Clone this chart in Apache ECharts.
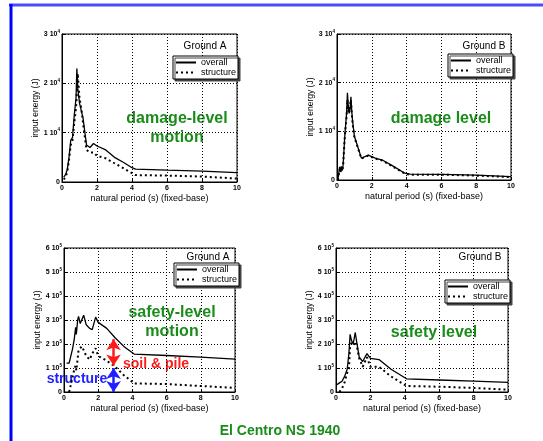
<!DOCTYPE html>
<html><head><meta charset="utf-8">
<script src="https://cdn.jsdelivr.net/npm/echarts@6/dist/echarts.min.js"></script>
<style>html,body{margin:0;padding:0;background:#fff}#c{width:543px;height:441px}</style>
</head><body><div id="c"></div>
<script>
// ---- data (input energy in J vs natural period in s) ----
const periodDamageA = [0.1,0.2,0.3,0.4,0.5,0.6,0.7,0.8,0.85,0.9,1.0,1.1,1.2,1.4,1.6,1.8,2.0,2.5,3.0,3.5,4.0,4.2,6,8,10];
const overallDamageA = [1000,1500,2500,5000,8500,9000,13500,17000,23000,19000,16000,16000,13000,7500,7000,7800,7300,6500,5000,4000,2900,2600,2400,2200,1900];
const structDamageA  = [500,1000,2000,4500,7500,8500,12000,15000,18000,22000,17000,15000,12000,6500,6000,6000,5300,4800,3800,2800,1800,1400,1300,1100,700];

const periodDamageB = [0.05,0.15,0.2,0.25,0.3,0.35,0.45,0.55,0.6,0.65,0.7,0.75,0.8,0.85,0.9,1.0,1.1,1.4,1.5,1.8,2.2,2.6,3.2,3.9,4.2,6,8,10];
const overallDamageB = [0,2700,1800,2800,2000,3000,9200,13700,17900,15000,13700,14500,17100,14000,12000,9000,8600,4500,4200,5100,4500,4100,2900,1400,1200,1150,1000,700];
const structDamageB  = [0,2200,1500,2500,1800,2800,9000,13000,16500,14000,14500,15500,16500,13500,11500,8800,8400,4400,4100,5000,4400,4000,2800,1300,1100,1100,900,600];

const periodSafetyA = [0.15,0.3,0.4,0.5,0.6,0.68,0.72,0.8,0.85,0.95,1.05,1.15,1.3,1.5,1.65,1.85,2.0,2.5,3.0,3.5,4.1,6,8,10];
const overallSafetyA = [120000,120000,125000,180000,220000,270000,240000,300000,315000,285000,290000,320000,280000,265000,260000,312000,290000,265000,225000,190000,158000,152000,145000,137000];
const structSafetyA  = [null,0,30000,60000,95000,110000,90000,140000,175000,180000,190000,185000,150000,135000,160000,182000,150000,130000,105000,70000,36000,33000,25000,17000];

const periodSafetyB = [0.05,0.2,0.35,0.5,0.65,0.75,0.82,0.9,1.0,1.12,1.2,1.35,1.55,1.8,2.0,2.5,3.2,4.1,6,8,10];
const overallSafetyB = [30000,38000,45000,65000,95000,160000,240000,215000,200000,248000,210000,145000,127000,160000,140000,135000,95000,55000,50000,45000,40000];
const structSafetyB  = [null,0,15000,40000,80000,95000,190000,205000,195000,210000,195000,140000,105000,145000,105000,105000,65000,25000,22000,17000,10000];

// annotation arrows (Ground A, safety level)
const arrowPeriod = 2.9;
const arrowSoilPile = [220000, 110000];
const arrowStructure = [100000, 0];

const xTicks = [0, 2, 4, 6, 8, 10];
const seriesNames = ['overall', 'structure'];
const panelGround = ['Ground A', 'Ground B', 'Ground A', 'Ground B'];
const yMaxDamage = 30000, yMaxSafety = 600000;

// ---- chart ----
const FONT = "'Liberation Sans', Arial, Helvetica, sans-serif";
const GREEN = '#1a8c1a';
const chart = echarts.init(document.getElementById('c'), null, {renderer: 'canvas'});

const grids = [
  {left: 62, top: 34, width: 175, height: 148},
  {left: 337, top: 34, width: 174, height: 146},
  {left: 64, top: 248, width: 171, height: 144},
  {left: 336, top: 248, width: 172, height: 144}
];
const exps = [4, 4, 5, 5];
const ymax = [yMaxDamage, yMaxDamage, yMaxSafety, yMaxSafety];

function pairs(p, v) { return p.map((t, i) => [t, v[i]]); }
const panels = [
  [periodDamageA, overallDamageA, structDamageA],
  [periodDamageB, overallDamageB, structDamageB],
  [periodSafetyA, overallSafetyA, structSafetyA],
  [periodSafetyB, overallSafetyB, structSafetyB]
];

const dotted = {color: '#000', width: 1, type: [1, 2]};

const xAxis = grids.map((g, i) => ({
  type: 'value', gridIndex: i, min: xTicks[0], max: xTicks[xTicks.length - 1], interval: 2,
  axisLine: {show: true, lineStyle: {color: '#000', width: 1}},
  axisTick: {show: true, inside: true, length: 3, lineStyle: {color: '#000'}},
  axisLabel: {fontFamily: FONT, fontSize: 7, fontWeight: 'bold', color: '#000', margin: 3},
  splitLine: {show: true, lineStyle: dotted},
  name: 'natural period (s) (fixed-base)', nameLocation: 'middle', nameGap: 12,
  nameTextStyle: {fontFamily: FONT, fontSize: 9, color: '#000'}
}));
const yAxis = grids.map((g, i) => ({
  type: 'value', gridIndex: i, min: 0, max: ymax[i], interval: ymax[i] / (i < 2 ? 3 : 6),
  axisLine: {show: true, lineStyle: {color: '#000', width: 1}},
  axisTick: {show: true, inside: true, length: 3, lineStyle: {color: '#000'}},
  axisLabel: {
    margin: 2, color: '#000',
    formatter: function (v) {
      if (v === 0) return '{a|0}';
      return '{a|' + Math.round(v / Math.pow(10, exps[i])) + ' 10}{s|' + exps[i] + '}';
    },
    rich: {
      a: {fontFamily: FONT, fontSize: 7, fontWeight: 'bold', color: '#000'},
      s: {fontFamily: FONT, fontSize: 4.5, fontWeight: 'bold', color: '#000', padding: [0, 0, 5, 0]}
    }
  },
  splitLine: {show: true, lineStyle: dotted},
  name: 'input energy (J)', nameLocation: 'middle', nameGap: 18,
  nameTextStyle: {fontFamily: FONT, fontSize: 8.5, color: '#000'}
}));

const series = [];
panels.forEach((p, i) => {
  series.push({
    name: seriesNames[0], type: 'line', xAxisIndex: i, yAxisIndex: i,
    data: pairs(p[0], p[1]), symbol: 'none', silent: true, animation: false,
    lineStyle: {color: '#000', width: 1.3, type: 'solid'}, itemStyle: {color: '#000'}
  });
  const s = {
    name: seriesNames[1], type: 'line', xAxisIndex: i, yAxisIndex: i,
    data: pairs(p[0], p[2]), symbol: 'none', silent: true, animation: false, connectNulls: false,
    lineStyle: {color: '#000', width: 2, type: [2, 3]}, itemStyle: {color: '#000'}
  };
  if (i === 2) {
    s.markLine = {
      silent: true, animation: false, symbol: ['arrow', 'arrow'], symbolSize: [11, 11],
      label: {show: false},
      data: [
        [{coord: [arrowPeriod, arrowSoilPile[0]], lineStyle: {color: '#ff1a1a', width: 2.5, type: 'solid'}, itemStyle: {color: '#ff1a1a'}},
         {coord: [arrowPeriod, arrowSoilPile[1]]}],
        [{coord: [arrowPeriod, arrowStructure[0]], lineStyle: {color: '#1f1fff', width: 2.5, type: 'solid'}, itemStyle: {color: '#1f1fff'}},
         {coord: [arrowPeriod, arrowStructure[1]]}]
      ]
    };
  }
  series.push(s);
});

const legendPos = [
  {left: 173, top: 56}, {left: 448, top: 54}, {left: 174, top: 263}, {left: 445, top: 280}
];
const legend = legendPos.map(p => ({
  left: p.left, top: p.top, orient: 'vertical', data: seriesNames,
  itemWidth: 20, itemHeight: 8, itemGap: 1, itemTextGap: 2,
  itemStyle: {opacity: 0},
  padding: [2, 2, 2, 2], backgroundColor: '#fff', borderColor: '#000', borderWidth: 1,
  shadowColor: '#444', shadowBlur: 0, shadowOffsetX: 2, shadowOffsetY: 2,
  textStyle: {fontFamily: FONT, fontSize: 9, color: '#000'},
  selectedMode: false
}));

function txt(x, y, text, size, color, weight) {
  return {type: 'text', x: x, y: y, silent: true,
    style: {text: text, fontFamily: FONT, fontSize: size, fontWeight: weight || 'normal', fill: color,
      textAlign: 'center', textVerticalAlign: 'middle'}};
}
const groundPos = [[205, 46], [484, 46], [208, 257], [480, 257]];
const graphic = [
  {type: 'line', silent: true, shape: {x1: 9, y1: 5, x2: 543, y2: 5}, style: {stroke: '#4a4aff', lineWidth: 3}},
  {type: 'line', silent: true, shape: {x1: 11, y1: 4, x2: 11, y2: 441}, style: {stroke: '#0000ff', lineWidth: 3}},
  ...groundPos.map((p, i) => txt(p[0], p[1], panelGround[i], 10, '#000')),
  txt(177, 119, 'damage-level', 16, GREEN, 'bold'),
  txt(177, 138, 'motion', 16, GREEN, 'bold'),
  txt(441, 119, 'damage level', 16, GREEN, 'bold'),
  txt(172, 313, 'safety-level', 16, GREEN, 'bold'),
  txt(172, 332, 'motion', 16, GREEN, 'bold'),
  txt(434, 333, 'safety level', 16, GREEN, 'bold'),
  txt(156, 364, 'soil & pile', 14, '#ff1a1a', 'bold'),
  txt(77, 379, 'structure', 14, '#1f1fff', 'bold'),
  txt(280, 431, 'El Centro NS 1940', 14, GREEN, 'bold')
];

chart.setOption({
  animation: false,
  backgroundColor: '#fff',
  grid: grids.map(g => Object.assign({show: true, borderColor: '#000', borderWidth: 1, backgroundColor: 'transparent'}, g)),
  xAxis: xAxis, yAxis: yAxis, series: series, legend: legend, graphic: graphic
});
</script></body></html>
